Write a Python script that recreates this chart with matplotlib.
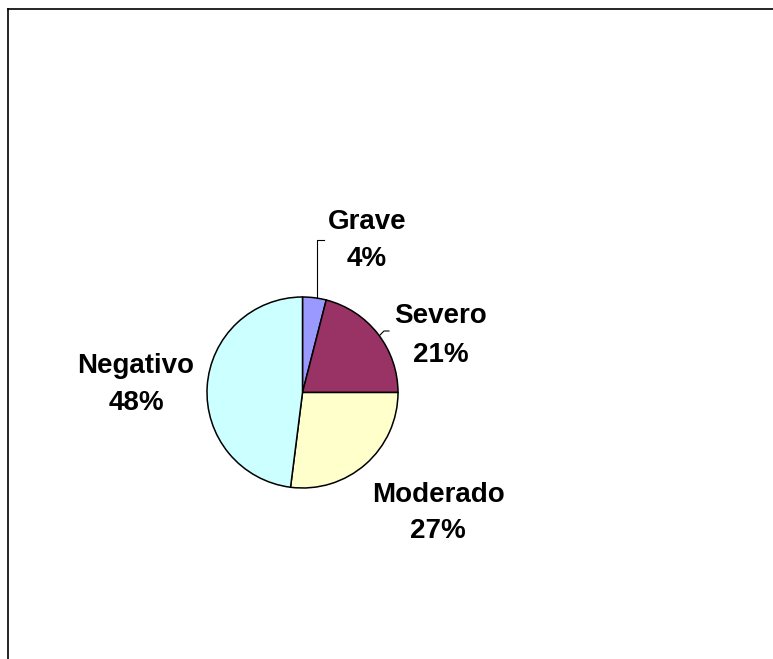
import matplotlib.pyplot as plt
from matplotlib.lines import Line2D

# datos del grafico
categorias = ["Grave", "Severo", "Moderado", "Negativo"]
porcentajes = [4, 21, 27, 48]
colores = ["#9999FF", "#993366", "#FFFFCC", "#CCFFFF"]

W, H = 773, 659
fig = plt.figure(figsize=(W / 100, H / 100), dpi=100)
ax = fig.add_axes([0, 0, 1, 1])

# centro y radio en pixeles (y desde abajo)
cx, cy, r = 302.5, H - 392.5, 95.5

ax.pie(porcentajes, colors=colores, startangle=90, counterclock=False,
       center=(cx, cy), radius=r,
       wedgeprops=dict(edgecolor="black", linewidth=1.1))

ax.set_xlim(0, W)
ax.set_ylim(0, H)
ax.set_aspect("auto")
ax.axis("off")

# posiciones de las etiquetas: x centro, linea base del nombre y del %
pos_x = [367, 441, 438, 136]
base_nombre = [229, 323, 502, 373]
base_pct = [266, 362, 538, 410]
for nombre, p, x, y1, y2 in zip(categorias, porcentajes, pos_x, base_nombre, base_pct):
    ax.text(x, H - y1, nombre, ha="center", va="baseline",
            fontsize=20, fontweight="bold", family="Liberation Sans")
    ax.text(x, H - y2, f"{p}%", ha="center", va="baseline",
            fontsize=20, fontweight="bold", family="Liberation Sans")

# lineas guia
ax.plot([316.5, 316.5, 324], [H - 298, H - 240, H - 240], color="black", lw=0.8)
ax.plot([380, 384, 389], [H - 335, H - 331, H - 331], color="black", lw=0.8)

# borde del area del grafico
fig.add_artist(Line2D([8 / W, 1], [1 - 9 / H, 1 - 9 / H], color="black", lw=1.2,
                      transform=fig.transFigure))
fig.add_artist(Line2D([8 / W, 8 / W], [0, 1 - 9 / H], color="black", lw=1.2,
                      transform=fig.transFigure))

fig.savefig("out.png", dpi=100)
